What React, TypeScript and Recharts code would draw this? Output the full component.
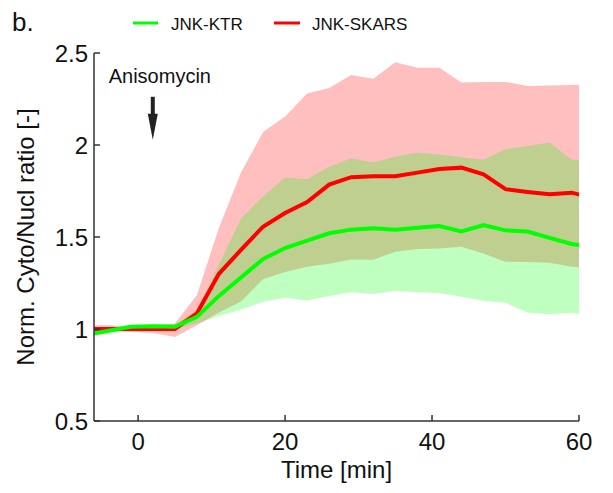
import {
  Area,
  ComposedChart,
  Line,
  ReferenceDot,
  ReferenceLine,
  XAxis,
  YAxis,
} from "recharts";

// time points (min); first and last fall just outside the visible axis and get clipped
const times = [-7, -4, -1, 2, 5, 8, 11, 14, 17, 20, 23, 26, 29, 32, 35, 38, 41, 44, 47, 50, 53, 56, 59, 62];

// JNK-KTR (green)
const ktrMean = [0.969, 0.99, 1.012, 1.015, 1.012, 1.066, 1.18, 1.28, 1.38, 1.44, 1.48, 1.52, 1.54, 1.547, 1.54, 1.55, 1.56, 1.53, 1.565, 1.536, 1.53, 1.495, 1.462, 1.444];
const ktrUpper = [0.985, 1.0, 1.02, 1.025, 1.025, 1.1, 1.35, 1.6, 1.72, 1.823, 1.814, 1.882, 1.928, 1.905, 1.938, 1.958, 1.948, 1.934, 1.92, 1.977, 1.995, 2.013, 1.92, 1.92];
const ktrLower = [0.955, 0.98, 1.0, 1.005, 1.0, 1.03, 1.07, 1.106, 1.148, 1.17, 1.155, 1.18, 1.2, 1.19, 1.208, 1.2, 1.195, 1.175, 1.153, 1.142, 1.09, 1.08, 1.088, 1.07];

// JNK-SKARS (red)
const skarsMean = [1.0, 1.0, 1.0, 1.0, 1.0, 1.085, 1.3, 1.43, 1.556, 1.63, 1.69, 1.785, 1.825, 1.83, 1.83, 1.85, 1.87, 1.877, 1.84, 1.76, 1.745, 1.732, 1.741, 1.71];
const skarsUpper = [1.02, 1.02, 1.015, 1.02, 1.03, 1.184, 1.55, 1.85, 2.07, 2.155, 2.28, 2.31, 2.38, 2.36, 2.45, 2.42, 2.42, 2.34, 2.343, 2.343, 2.32, 2.324, 2.326, 2.33];
const skarsLower = [0.985, 0.985, 0.985, 0.98, 0.957, 1.02, 1.09, 1.15, 1.27, 1.31, 1.338, 1.355, 1.378, 1.377, 1.42, 1.435, 1.437, 1.447, 1.41, 1.366, 1.364, 1.36, 1.338, 1.33];

const xTicks = [0, 20, 40, 60];
const yTicks = [0.5, 1, 1.5, 2, 2.5];

const legendNames = ["JNK-KTR", "JNK-SKARS"];

const GREEN = "#00ff00";
const RED = "#ff0000";
const AXIS = "#333333";
const TEXT = "#111111";
const FONT = "'Liberation Sans', Arial, Helvetica, sans-serif";

const data = times.map((t, i) => ({
  t,
  ktr: ktrMean[i],
  skars: skarsMean[i],
  ktrBand: [ktrLower[i], ktrUpper[i]],
  skarsBand: [skarsLower[i], skarsUpper[i]],
}));

const tickStyle = { fill: TEXT, fontSize: 24, fontFamily: FONT };
const axisLine = { stroke: AXIS, strokeWidth: 1.5 };

export default function App() {
  return (
    <div
      style={{
        position: "absolute",
        left: 0,
        top: 0,
        width: 613,
        height: 493,
        background: "#fff",
        fontFamily: FONT,
      }}
    >
      <ComposedChart
        width={613}
        height={493}
        data={data}
        margin={{ top: 53, right: 34, bottom: 0, left: 0 }}
      >
        <XAxis
          xAxisId="b"
          dataKey="t"
          type="number"
          domain={[-6, 60]}
          ticks={xTicks}
          allowDataOverflow
          height={72}
          tickSize={-6}
          tickMargin={18}
          tick={tickStyle}
          axisLine={axisLine}
          tickLine={axisLine}
          label={{
            content: (p: any) => {
              const vb = p.viewBox;
              return (
                <text
                  x={vb.x + vb.width / 2}
                  y={478}
                  textAnchor="middle"
                  fontSize={24}
                  fontFamily={FONT}
                  fill={TEXT}
                >
                  Time [min]
                </text>
              );
            },
          }}
        />
        <XAxis
          xAxisId="top"
          orientation="top"
          dataKey="t"
          type="number"
          domain={[-6, 60]}
          ticks={xTicks}
          allowDataOverflow
          height={0}
          tickSize={-6}
          tickFormatter={() => ""}
          axisLine={axisLine}
          tickLine={axisLine}
        />
        <YAxis
          yAxisId="l"
          type="number"
          domain={[0.5, 2.5]}
          ticks={yTicks}
          allowDataOverflow
          width={94}
          tickSize={-6}
          tickMargin={12}
          tick={tickStyle}
          axisLine={axisLine}
          tickLine={axisLine}
          label={{
            content: (p: any) => {
              const vb = p.viewBox;
              const cx = vb.x + 34;
              const cy = vb.y + vb.height / 2;
              return (
                <text
                  x={cx}
                  y={cy}
                  transform={`rotate(-90 ${cx} ${cy})`}
                  textAnchor="middle"
                  fontSize={24}
                  fontFamily={FONT}
                  fill={TEXT}
                >
                  Norm. Cyto/Nucl ratio [-]
                </text>
              );
            },
          }}
        />
        <YAxis
          yAxisId="r"
          orientation="right"
          type="number"
          domain={[0.5, 2.5]}
          ticks={yTicks}
          allowDataOverflow
          width={0}
          tickSize={-6}
          tickFormatter={() => ""}
          axisLine={axisLine}
          tickLine={axisLine}
        />

        <Area
          xAxisId="b"
          yAxisId="l"
          type="linear"
          dataKey="skarsBand"
          stroke="none"
          fill={RED}
          fillOpacity={0.25}
          isAnimationActive={false}
        />
        <Area
          xAxisId="b"
          yAxisId="l"
          type="linear"
          dataKey="ktrBand"
          stroke="none"
          fill={GREEN}
          fillOpacity={0.25}
          isAnimationActive={false}
        />
        <Line
          xAxisId="b"
          yAxisId="l"
          type="linear"
          dataKey="skars"
          stroke={RED}
          strokeWidth={4}
          dot={false}
          isAnimationActive={false}
        />
        <Line
          xAxisId="b"
          yAxisId="l"
          type="linear"
          dataKey="ktr"
          stroke={GREEN}
          strokeWidth={4}
          dot={false}
          isAnimationActive={false}
        />

        {/* Anisomycin annotation */}
        <ReferenceDot
          xAxisId="b"
          yAxisId="l"
          x={-4}
          y={2.338}
          r={0}
          shape={(p: any) => (
            <text x={p.cx} y={p.cy} fontSize={20} fontFamily={FONT} fill={TEXT}>
              Anisomycin
            </text>
          )}
        />
        <ReferenceLine
          xAxisId="b"
          yAxisId="l"
          segment={[
            { x: 2, y: 2.262 },
            { x: 2, y: 2.15 },
          ]}
          stroke="#222"
          strokeWidth={4}
        />
        <ReferenceDot
          xAxisId="b"
          yAxisId="l"
          x={2}
          y={2.028}
          r={0}
          shape={(p: any) => (
            <polygon
              points={`${p.cx - 5},${p.cy - 26} ${p.cx + 5},${p.cy - 26} ${p.cx},${p.cy}`}
              fill="#222"
            />
          )}
        />
      </ComposedChart>

      <svg
        width={613}
        height={45}
        style={{ position: "absolute", left: 0, top: 0, pointerEvents: "none" }}
      >
        <text x={12} y={31} fontSize={26} fontFamily={FONT} fill={TEXT}>
          b.
        </text>
        <line x1={133} y1={23} x2={158} y2={23} stroke={GREEN} strokeWidth={3} />
        <text x={171} y={30} fontSize={17} fontFamily={FONT} fill={TEXT}>
          {legendNames[0]}
        </text>
        <line x1={274} y1={23} x2={300} y2={23} stroke={RED} strokeWidth={3} />
        <text x={312} y={30} fontSize={17} fontFamily={FONT} fill={TEXT}>
          {legendNames[1]}
        </text>
      </svg>
    </div>
  );
}
